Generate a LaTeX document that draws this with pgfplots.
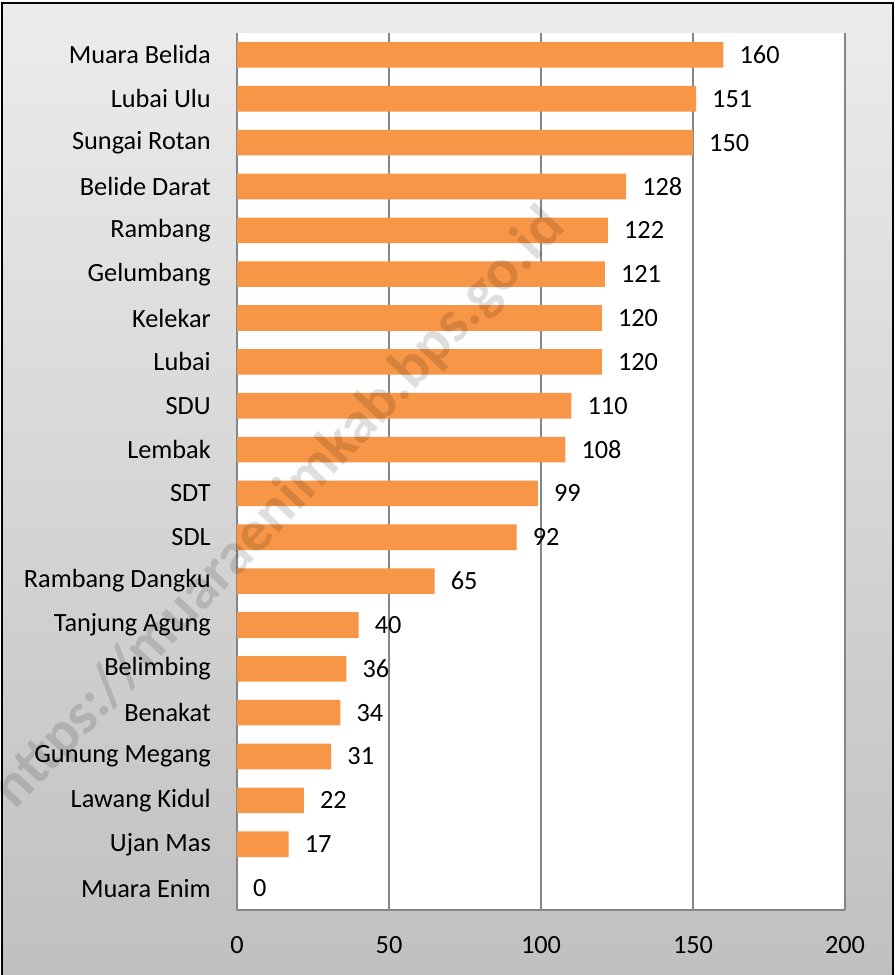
\documentclass[border=0pt]{standalone}
\usepackage{pgfplots}
\pgfplotsset{compat=1.18}
\usepackage{fontspec}
\setmainfont{Carlito}
\definecolor{barc}{RGB}{247,150,70}
\definecolor{gridc}{RGB}{134,134,134}
\begin{document}
\begin{tikzpicture}[x=1pt,y=1pt]
\useasboundingbox (0,0) rectangle (896,975);
\fill[white] (0,0) rectangle (896,975);
\shade[top color={rgb,255:red,236;green,236;blue,236}, bottom color={rgb,255:red,192;green,192;blue,192}] (2,0) rectangle (893,972);
\fill[white] (237,65) rectangle (845,942);
\begin{axis}[
  at={(237pt,65pt)}, anchor=south west,
  scale only axis, width=608pt, height=877pt,
  xbar, bar width=25.6pt,
  xmin=0, xmax=200, ymin=-0.5, ymax=19.5,
  xtick={0,50,100,150,200},
  ytick={0,...,19},
  yticklabels={Muara Enim, Ujan Mas, Lawang Kidul, Gunung Megang, Benakat, Belimbing, Tanjung Agung, Rambang Dangku, SDL, SDT, Lembak, SDU, Lubai, Kelekar, Gelumbang, Rambang, Belide Darat, Sungai Rotan, Lubai Ulu, Muara Belida},
  xmajorgrids, major grid style={gridc, line width=1.3pt},
  axis x line=bottom, axis y line=left,
  axis line style={-, gridc, line width=1.3pt},
  major tick length=0pt,
  tick label style={font=\fontsize{26.3}{30}\selectfont, text=black},
  /pgf/number format/assume math mode=true,
  yticklabel style={inner sep=0pt, xshift=-26pt},
  xticklabel style={inner sep=0pt, yshift=-26pt},
  nodes near coords,
  nodes near coords style={anchor=west, inner sep=0pt, xshift=16pt, font=\fontsize{26.3}{30}\selectfont, text=black, /pgf/number format/assume math mode=true},
]
\addplot[fill=barc, draw=none] coordinates {
(0,0) (17,1) (22,2) (31,3) (34,4) (36,5) (40,6) (65,7) (92,8) (99,9)
(108,10) (110,11) (120,12) (120,13) (121,14) (122,15) (128,16) (150,17) (151,18) (160,19)
};
\end{axis}
\node[rotate=46.5, text=black, text opacity=0.13, font=\fontsize{59}{63}\selectfont\bfseries] at (280,466) {https://muaraenimkab.bps.go.id};
\draw[black, line width=2.2pt] (2,-5) rectangle (893,972);
\end{tikzpicture}
\end{document}
